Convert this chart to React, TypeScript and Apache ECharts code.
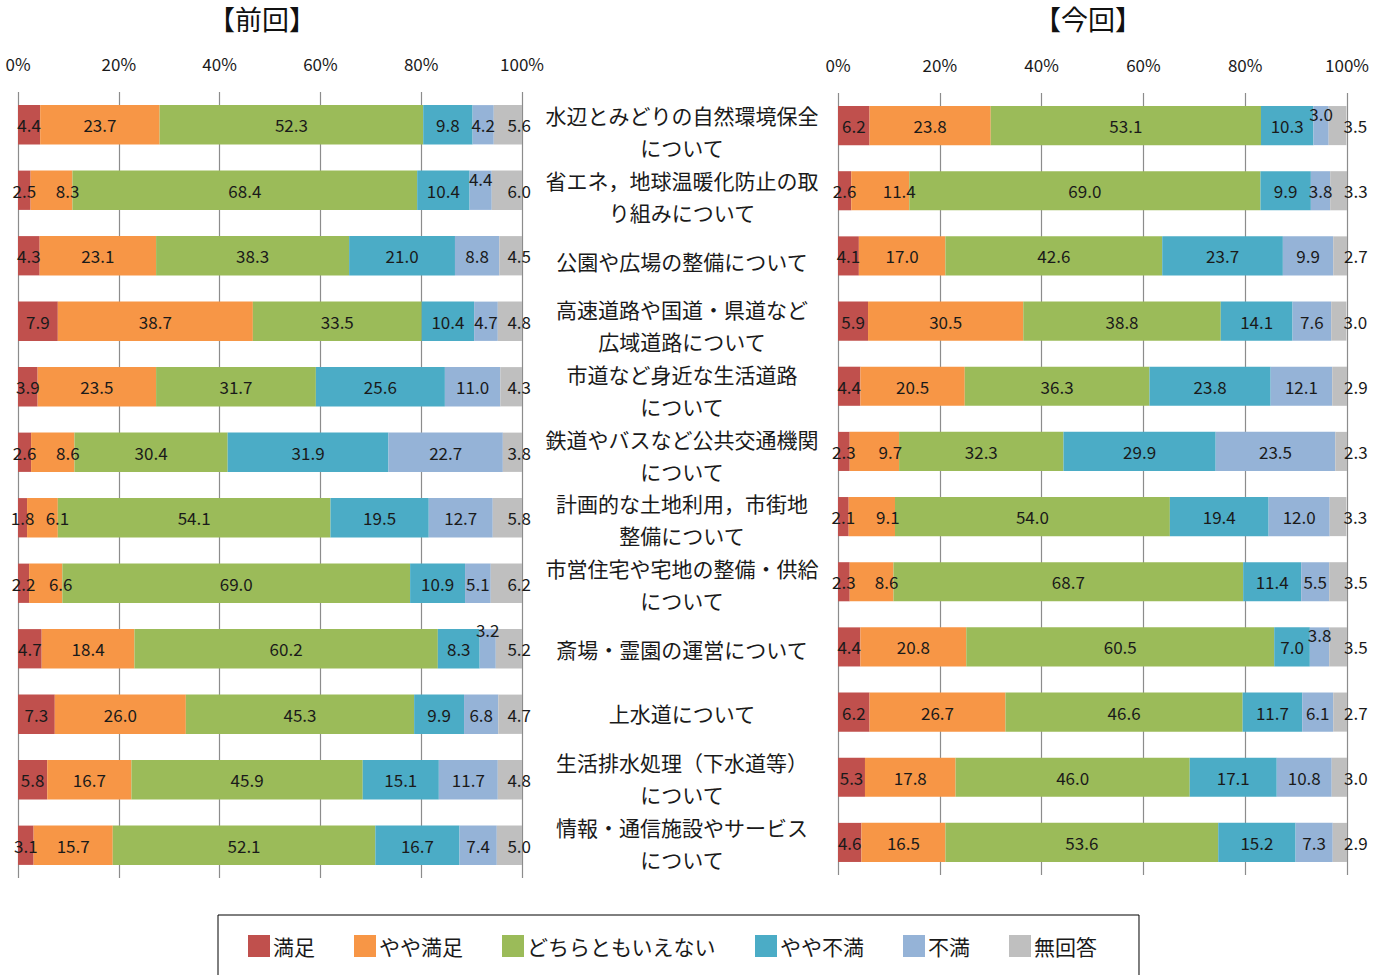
import React, { useEffect, useRef } from "react";
import * as echarts from "echarts";

const categories = [
  "水辺とみどりの自然環境保全\nについて",
  "省エネ，地球温暖化防止の取\nり組みについて",
  "公園や広場の整備について",
  "高速道路や国道・県道など\n広域道路について",
  "市道など身近な生活道路\nについて",
  "鉄道やバスなど公共交通機関\nについて",
  "計画的な土地利用，市街地\n整備について",
  "市営住宅や宅地の整備・供給\nについて",
  "斎場・霊園の運営について",
  "上水道について",
  "生活排水処理（下水道等）\nについて",
  "情報・通信施設やサービス\nについて",
];

const seriesNames = ["満足", "やや満足", "どちらともいえない", "やや不満", "不満", "無回答"];
const colors = ["#C0504D", "#F79646", "#9BBB59", "#4BACC6", "#95B3D7", "#BFBFBF"];
const tickLabels = ["0%", "20%", "40%", "60%", "80%", "100%"];

// 前回 (previous)
const prevSatisfied = [4.4, 2.5, 4.3, 7.9, 3.9, 2.6, 1.8, 2.2, 4.7, 7.3, 5.8, 3.1];
const prevSomewhatSatisfied = [23.7, 8.3, 23.1, 38.7, 23.5, 8.6, 6.1, 6.6, 18.4, 26.0, 16.7, 15.7];
const prevNeutral = [52.3, 68.4, 38.3, 33.5, 31.7, 30.4, 54.1, 69.0, 60.2, 45.3, 45.9, 52.1];
const prevSomewhatDissatisfied = [9.8, 10.4, 21.0, 10.4, 25.6, 31.9, 19.5, 10.9, 8.3, 9.9, 15.1, 16.7];
const prevDissatisfied = [4.2, 4.4, 8.8, 4.7, 11.0, 22.7, 12.7, 5.1, 3.2, 6.8, 11.7, 7.4];
const prevNoAnswer = [5.6, 6.0, 4.5, 4.8, 4.3, 3.8, 5.8, 6.2, 5.2, 4.7, 4.8, 5.0];

// 今回 (current)
const currSatisfied = [6.2, 2.6, 4.1, 5.9, 4.4, 2.3, 2.1, 2.3, 4.4, 6.2, 5.3, 4.6];
const currSomewhatSatisfied = [23.8, 11.4, 17.0, 30.5, 20.5, 9.7, 9.1, 8.6, 20.8, 26.7, 17.8, 16.5];
const currNeutral = [53.1, 69.0, 42.6, 38.8, 36.3, 32.3, 54.0, 68.7, 60.5, 46.6, 46.0, 53.6];
const currSomewhatDissatisfied = [10.3, 9.9, 23.7, 14.1, 23.8, 29.9, 19.4, 11.4, 7.0, 11.7, 17.1, 15.2];
const currDissatisfied = [3.0, 3.8, 9.9, 7.6, 12.1, 23.5, 12.0, 5.5, 3.8, 6.1, 10.8, 7.3];
const currNoAnswer = [3.5, 3.3, 2.7, 3.0, 2.9, 2.3, 3.3, 3.5, 3.5, 2.7, 3.0, 2.9];

const prevData = [prevSatisfied, prevSomewhatSatisfied, prevNeutral, prevSomewhatDissatisfied, prevDissatisfied, prevNoAnswer];
const currData = [currSatisfied, currSomewhatSatisfied, currNeutral, currSomewhatDissatisfied, currDissatisfied, currNoAnswer];

// label nudges: [chart, seriesIndex, categoryIndex, dx, dy]
const labelNudges: [number, number, number, number, number][] = [
  [0, 1, 1, 16, 0],
  [0, 1, 5, 15, 0],
  [0, 1, 6, 15, 0],
  [0, 1, 7, 15, 0],
  [0, 4, 1, 0, -12],
  [0, 4, 8, 0, -19],
  [1, 1, 1, 19, 0],
  [1, 1, 5, 16, 0],
  [1, 1, 6, 16, 0],
  [1, 1, 7, 15, 0],
  [1, 4, 0, 0, -12],
  [1, 4, 8, 0, -12],
];

const FONT = "'Noto Sans CJK JP', 'Noto Sans', sans-serif";

function buildSeries(chart: number, data: number[][]) {
  return data.map((vals, si) => ({
    name: seriesNames[si],
    type: "bar",
    stack: "s" + chart,
    xAxisIndex: chart,
    yAxisIndex: chart,
    barCategoryGap: "40%",
    itemStyle: { color: colors[si] },
    label: {
      show: true,
      position: si === 5 ? (chart === 0 ? "insideRight" : "right") : "inside",
      offset: si === 5 ? (chart === 0 ? [14, 0] : [-8, 0]) : [0, 0],
      color: "#1a1a1a",
      fontSize: 17,
      fontFamily: FONT,
      formatter: (p: any) => Number(p.value).toFixed(1),
    },
    data: vals.map((v, ci) => {
      const n = labelNudges.find((x) => x[0] === chart && x[1] === si && x[2] === ci);
      if (n) return { value: v, label: { offset: [n[3], n[4]] } };
      return v;
    }),
  }));
}

function xAxis(gridIndex: number) {
  return {
    type: "value",
    gridIndex,
    position: "top",
    min: 0,
    max: 100,
    interval: 20,
    axisLine: { show: false },
    axisTick: { show: false },
    splitLine: { show: true, lineStyle: { color: "#8c8c8c", width: 1.2 } },
    axisLabel: {
      margin: 20,
      fontSize: 17,
      color: "#1a1a1a",
      fontFamily: FONT,
      formatter: (v: number) => tickLabels[Math.round(v / 20)],
    },
  };
}

export default function App() {
  const ref = useRef<HTMLDivElement>(null);
  useEffect(() => {
    document.body.style.margin = "0";
    const chart = echarts.init(ref.current!, null, { renderer: "svg" });
    chart.setOption({
      animation: false,
      backgroundColor: "#fff",
      textStyle: { fontFamily: FONT },
      graphic: [
        { type: "text", x: 262, y: 18, style: { text: "【前回】", fontSize: 27, fontFamily: FONT, fill: "#111", align: "center", verticalAlign: "middle" } },
        { type: "text", x: 1088, y: 18, style: { text: "【今回】", fontSize: 27, fontFamily: FONT, fill: "#111", align: "center", verticalAlign: "middle" } },
      ],
      legend: {
        data: seriesNames,
        left: 218,
        top: 915,
        icon: "rect",
        itemWidth: 22,
        itemHeight: 22,
        itemGap: 39,
        padding: [20, 42, 30, 30],
        borderColor: "#000",
        borderWidth: 1,
        textStyle: { fontSize: 21, color: "#1a1a1a", fontFamily: FONT, padding: [0, 0, 0, -2] },
      },
      grid: [
        { left: 18, width: 504, top: 92, height: 786 },
        { left: 838, width: 509, top: 93, height: 782 },
        { left: 838, width: 509, top: 99, height: 776 },
      ],
      xAxis: [
        xAxis(0),
        xAxis(1),
        { type: "value", gridIndex: 2, min: 0, max: 100, show: false },
      ],
      yAxis: [
        {
          type: "category",
          gridIndex: 0,
          inverse: true,
          data: categories,
          axisLine: { show: false },
          axisTick: { show: false },
          axisLabel: { show: false },
        },
        {
          type: "category",
          gridIndex: 1,
          inverse: true,
          data: categories,
          axisLine: { show: false },
          axisTick: { show: false },
          axisLabel: { show: false },
        },
        {
          type: "category",
          gridIndex: 2,
          inverse: true,
          data: categories,
          axisLine: { show: false },
          axisTick: { show: false },
          splitLine: { show: false },
          axisLabel: {
            show: true,
            interval: 0,
            hideOverlap: false,
            showMinLabel: true,
            showMaxLabel: true,
            margin: 156,
            align: "center",
            fontSize: 21,
            lineHeight: 32,
            color: "#1a1a1a",
            fontFamily: FONT,
          },
        },
      ],
      series: [...buildSeries(0, prevData), ...buildSeries(1, currData)],
    });
    return () => chart.dispose();
  }, []);
  return <div ref={ref} style={{ position: "absolute", left: 0, top: 0, width: 1387, height: 975 }} />;
}
